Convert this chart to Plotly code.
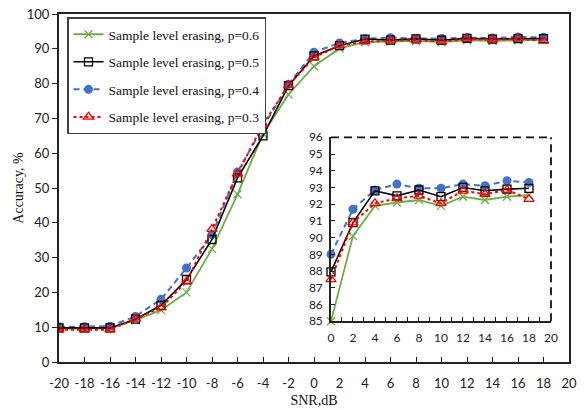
import plotly.graph_objects as go

snr = [-20, -18, -16, -14, -12, -10, -8, -6, -4, -2, 0, 2, 4, 6, 8, 10, 12, 14, 16, 18]
p06 = [9.5, 9.5, 9.7, 12.0, 14.9, 20.0, 32.5, 48.2, 65.6, 76.9, 85.0, 90.1, 91.9, 92.1, 92.25, 91.9, 92.45, 92.25, 92.45, 92.55]
p05 = [9.8, 9.8, 9.8, 12.3, 16.3, 23.7, 35.2, 52.9, 65.0, 79.4, 87.95, 90.9, 92.8, 92.5, 92.85, 92.45, 93.0, 92.8, 92.9, 92.95]
p04 = [10.1, 10.1, 10.3, 13.1, 18.0, 27.0, 36.6, 54.6, 67.5, 79.8, 89.0, 91.7, 92.85, 93.2, 92.95, 92.95, 93.2, 93.1, 93.4, 93.3]
p03 = [9.3, 9.3, 9.3, 12.4, 15.6, 23.1, 38.2, 54.1, 68.3, 79.5, 87.5, 90.9, 92.05, 92.35, 92.5, 92.05, 92.8, 92.6, 92.85, 92.3]
names = ["Sample level erasing, p=0.6", "Sample level erasing, p=0.5",
         "Sample level erasing, p=0.4", "Sample level erasing, p=0.3"]
main_xticks = list(range(-20, 21, 2))
main_xticktext = [str(v) for v in main_xticks]
inset_xticks = list(range(0, 21, 2))

GREEN = "#70AD47"
BLUE = "#4472C4"
RED = "#FF0000"
BLACK = "#000000"

styles = [
    dict(y=p06, name=names[0], rank=1, line=dict(color=GREEN, width=1.8),
         marker=dict(symbol="x-thin-open", size=8, color=GREEN, line=dict(color=GREEN, width=1.3))),
    dict(y=p04, name=names[2], rank=3, line=dict(color=BLUE, width=2, dash="6px,4px"),
         marker=dict(symbol="circle", size=9, color=BLUE, line=dict(color=BLUE, width=0))),
    dict(y=p05, name=names[1], rank=2, line=dict(color=BLACK, width=1.6),
         marker=dict(symbol="square-open", size=8, color=BLACK, line=dict(color=BLACK, width=1.3))),
    dict(y=p03, name=names[3], rank=4, line=dict(color=RED, width=2, dash="dot"),
         marker=dict(symbol="triangle-up-open", size=9, color=RED, line=dict(color=RED, width=1.3))),
]

fig = go.Figure()
for s in styles:
    fig.add_trace(go.Scatter(x=snr, y=s["y"], name=s["name"], mode="lines+markers",
                             line=s["line"], marker=s["marker"], legendrank=s["rank"],
                             legendgroup=s["name"], xaxis="x", yaxis="y"))
n0 = snr.index(0)
ix = snr[n0:]
for s in styles:
    fig.add_trace(go.Scatter(x=ix, y=s["y"][n0:], name=s["name"], mode="lines+markers",
                             line=s["line"], marker=s["marker"], showlegend=False,
                             legendgroup=s["name"], xaxis="x2", yaxis="y2", cliponaxis=False))

tickfont = dict(family="Lato, Open Sans, Arial", size=13, color="#222")
serif = "Liberation Serif, Times New Roman, serif"

fig.update_layout(
    width=587, height=410,
    margin=dict(l=51, r=26, t=6, b=56, autoexpand=False),
    paper_bgcolor="white", plot_bgcolor="white",
    showlegend=True,
    legend=dict(x=0.0157, y=0.99, xanchor="left", yanchor="top",
                bgcolor="white", bordercolor="#404040", borderwidth=1.5,
                font=dict(family=serif, size=13.5, color="#111"),
                traceorder="grouped", tracegroupgap=7, itemwidth=30),
    xaxis=dict(domain=[0, 1], range=[-20, 20], tickmode="array",
               tickvals=main_xticks, ticktext=main_xticktext, automargin=False,
               showgrid=False, zeroline=False, ticklabeloverflow="allow",
               showline=True, linecolor="#222", linewidth=2, mirror=True,
               ticks="inside", ticklen=5, tickcolor="#222", tickwidth=1,
               tickfont=tickfont, ticklabelstandoff=8,
               title=dict(text="SNR,dB", font=dict(family=serif, size=14, color="#111"), standoff=6)),
    yaxis=dict(domain=[0, 1], range=[0, 100], dtick=10, showgrid=False, zeroline=False,
               automargin=False, ticklabeloverflow="allow",
               showline=True, linecolor="#222", linewidth=2, mirror=True,
               ticks="outside", ticklen=5, tickcolor="#222", tickwidth=1,
               tickfont=tickfont,
               title=dict(text="Accuracy, %", font=dict(family=serif, size=14, color="#111"), standoff=0)),
    xaxis2=dict(domain=[0.5333, 0.9647], range=[0, 20], tickmode="array", tickvals=inset_xticks,
                anchor="y2", automargin=False,
                showgrid=False, zeroline=False, showline=True, linecolor="#222", linewidth=1.5,
                ticks="inside", ticklen=4, tickcolor="#222",
                minor=dict(dtick=1, ticks="inside", ticklen=4, tickcolor="#222"),
                tickfont=dict(family="Lato, Open Sans, Arial", size=12, color="#222"),
                ticklabelstandoff=5),
    yaxis2=dict(domain=[0.1171, 0.6457], range=[85, 96], dtick=1, anchor="x2",
                automargin=False,
                showgrid=False, zeroline=False, showline=True, linecolor="#222", linewidth=1.5,
                ticks="inside", ticklen=4, tickcolor="#222",
                tickfont=dict(family="Lato, Open Sans, Arial", size=12, color="#222"),
                ticklabelstandoff=4),
    shapes=[
        dict(type="line", xref="x2 domain", yref="y2 domain", x0=0, x1=1, y0=1, y1=1,
             line=dict(color="#111", width=1.8, dash="8px,5px")),
        dict(type="line", xref="x2 domain", yref="y2 domain", x0=1, x1=1, y0=0, y1=1,
             line=dict(color="#111", width=1.8, dash="8px,5px")),
    ],
)

fig.write_html("out.html")
